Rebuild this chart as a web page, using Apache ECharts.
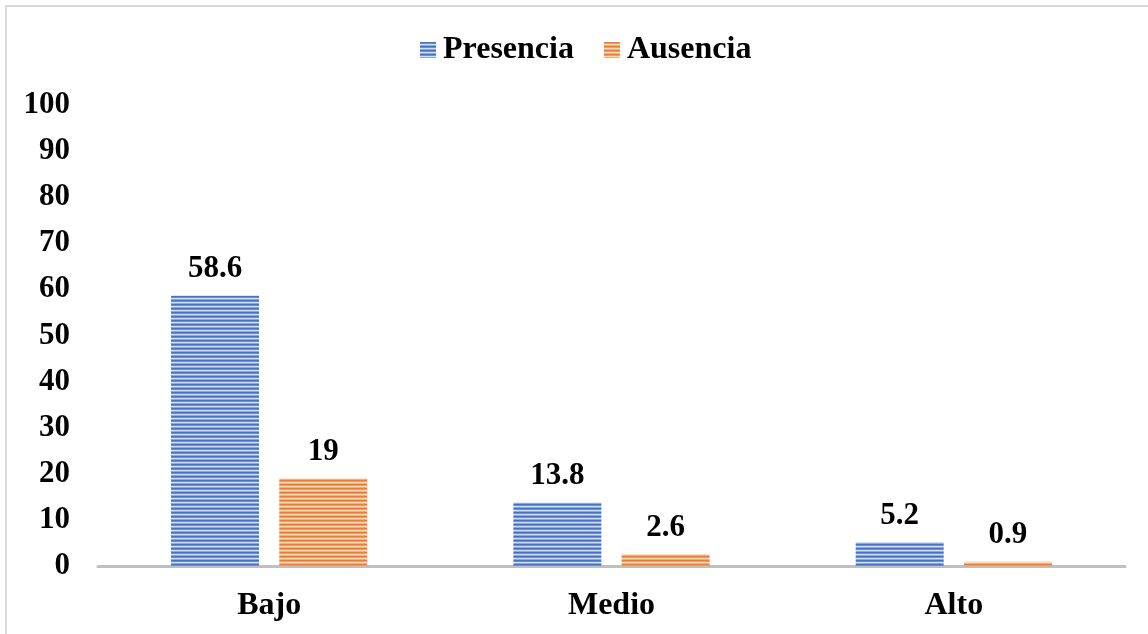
<!DOCTYPE html>
<html>
<head>
<meta charset="utf-8">
<style>
  html, body { margin: 0; padding: 0; background: #fff; }
  #chart { width: 1148px; height: 634px; }
</style>
<script src="https://cdn.jsdelivr.net/npm/echarts@6/dist/echarts.min.js"></script>
</head>
<body>
<div id="chart"></div>
<script>
// Categories and values
const categories = ['Bajo', 'Medio', 'Alto'];
const presencia = [58.6, 13.8, 5.2];
const ausencia = [19, 2.6, 0.9];
const yTicks = { min: 0, max: 100, interval: 10 };

// Horizontal-stripe fill built on a small canvas tile
function stripes(rows) {
  const c = document.createElement('canvas');
  c.width = 4;
  c.height = rows.length;
  const ctx = c.getContext('2d');
  rows.forEach((col, i) => {
    ctx.fillStyle = col;
    ctx.fillRect(0, i, 4, 1);
  });
  return { image: c, repeat: 'repeat' };
}
const bluePattern = stripes(['#4472C4', '#6b8fd2', '#d3def3', '#8ca8de']);
const orangePattern = stripes(['#ED7D31', '#f19a5e', '#fbdcc6', '#f4ad7d']);

const font = '"Liberation Serif", "Times New Roman", serif';
const label = {
  show: true,
  position: 'top',
  distance: 11,
  fontFamily: font,
  fontWeight: 'bold',
  fontSize: 31,
  color: '#000'
};

const chart = echarts.init(document.getElementById('chart'), null, { renderer: 'canvas' });
chart.setOption({
  animation: false,
  backgroundColor: '#fff',
  graphic: [{
    type: 'rect',
    shape: { x: 6, y: 6, width: 1160, height: 660 },
    style: { fill: 'none', stroke: '#d9d9d9', lineWidth: 2 },
    silent: true
  }],
  legend: {
    top: 29,
    left: 415,
    icon: 'rect',
    itemWidth: 16,
    itemHeight: 16,
    itemGap: 30,
    textStyle: { fontFamily: font, fontWeight: 'bold', fontSize: 32, color: '#000', padding: [0, 0, 0, 2] },
    data: ['Presencia', 'Ausencia']
  },
  grid: { left: 98, right: 23, top: 105, bottom: 68, containLabel: false },
  xAxis: {
    type: 'category',
    data: categories,
    axisLine: { lineStyle: { color: '#bfbfbf', width: 3 } },
    axisTick: { show: false },
    axisLabel: {
      margin: 24,
      fontFamily: font,
      fontWeight: 'bold',
      fontSize: 32,
      color: '#000'
    }
  },
  yAxis: {
    type: 'value',
    min: yTicks.min,
    max: yTicks.max,
    interval: yTicks.interval,
    splitLine: { show: false },
    axisLine: { show: false },
    axisTick: { show: false },
    axisLabel: {
      margin: 28,
      fontFamily: font,
      fontWeight: 'bold',
      fontSize: 31,
      color: '#000'
    }
  },
  series: [
    {
      name: 'Presencia',
      type: 'bar',
      data: presencia,
      barWidth: 88,
      barGap: '23%',
      itemStyle: { color: bluePattern },
      label: label
    },
    {
      name: 'Ausencia',
      type: 'bar',
      data: ausencia,
      barWidth: 88,
      itemStyle: { color: orangePattern },
      label: label
    }
  ]
});
</script>
</body>
</html>
